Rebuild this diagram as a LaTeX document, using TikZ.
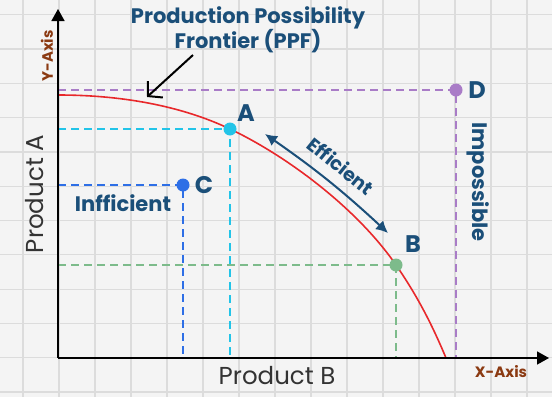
\documentclass[tikz,border=0pt]{standalone}
\usepackage{fontspec}
\setmainfont{Poppins}
\usetikzlibrary{arrows.meta}
\definecolor{bgc}{HTML}{F4F4F4}
\definecolor{gridc}{HTML}{DCDCDC}
\definecolor{titleblue}{HTML}{1B4F79}
\definecolor{ppfred}{HTML}{E8282B}
\definecolor{purplec}{HTML}{A97CC7}
\definecolor{cyanc}{HTML}{22C4E8}
\definecolor{bluec}{HTML}{2E6FE6}
\definecolor{greenc}{HTML}{7DBB8B}
\definecolor{brownc}{HTML}{8B3A12}
\definecolor{textgray}{HTML}{333333}
\tikzset{
  axisline/.style={line width=1.6pt, black, -{Triangle[length=12pt,width=13pt]}},
  dashline/.style={line width=2pt, dash pattern=on 8pt off 5pt},
  dot/.style={circle, inner sep=0pt, minimum size=13pt},
  ptlabel/.style={text=titleblue, font=\fontsize{24}{28}\selectfont\bfseries},
  bluetext/.style={text=titleblue, font=\fontsize{21}{24}\selectfont\bfseries},
  axislabel/.style={text=textgray, font=\fontsize{24.5}{28}\selectfont},
  axisname/.style={text=brownc, font=\fontsize{15}{18}\selectfont\bfseries},
}
\begin{document}
\begin{tikzpicture}[x=1pt,y=-1pt]
\useasboundingbox (0,0) rectangle (552,397);
\fill[bgc] (0,0) rectangle (552,397);
\foreach \i in {0,...,15} \draw[gridc, line width=1.2pt] ({23+36*\i},0) -- ({23+36*\i},397);
\foreach \j in {0,...,11} \draw[gridc, line width=1.2pt] (0,{392-34.3*\j}) -- (552,{392-34.3*\j});

% coordinates
\coordinate (O) at (58,358);
\coordinate (Ytip) at (58,9);
\coordinate (Xtip) at (549,358);
\coordinate (pA) at (230,129);
\coordinate (pB) at (396,265);
\coordinate (pC) at (183,185);
\coordinate (pD) at (456,90);
\coordinate (ppfTop) at (58,95);
\coordinate (ppfEnd) at (446,358);

% dashed guides
\draw[dashline, purplec] (O|-pD) -- (pD) -- (pD|-O);
\draw[dashline, cyanc] (O|-pA) -- (pA) -- (pA|-O);
\draw[dashline, bluec] (O|-pC) -- (pC) -- (pC|-O);
\draw[dashline, greenc] (O|-pB) -- (pB) -- (pB|-O);

% PPF curve
\draw[ppfred, line width=1.6pt] (ppfTop) .. controls (128,95) and (186,108) .. (pA)
  .. controls (285,155) and (356,207) .. (pB)
  .. controls (416,294) and (431,322) .. (ppfEnd);

% axes
\draw[axisline] (O) -- (Ytip);
\draw[axisline] (O) -- (Xtip);

% points
\node[dot, fill=cyanc] (A) at (pA) {};
\node[dot, fill=greenc] (B) at (pB) {};
\node[dot, fill=bluec] (C) at (pC) {};
\node[dot, fill=purplec] (D) at (pD) {};

% labels of points
\node[ptlabel] (lA) at (246,113) {A};
\node[ptlabel] (lB) at (413,244) {B};
\node[ptlabel] (lC) at (204,185) {C};
\node[ptlabel] (lD) at (477,90) {D};

% title and arrow
\node[text=titleblue, font=\fontsize{21}{25}\selectfont\bfseries, align=center] (title) at (248,30) {Production Possibility\\Frontier (PPF)};
\coordinate (ta1) at (193,55);
\coordinate (ta2) at (147,97);
\draw[line width=2pt, black, -{Straight Barb[length=10pt,width=22pt]}] (ta1) -- (ta2);

% efficient arrow
\coordinate (e1) at (265,134);
\coordinate (e2) at (388,233);
\draw[titleblue, line width=2pt, {Latex[length=12pt,width=12pt]}-{Latex[length=12pt,width=12pt]}] (e1) to[bend left=4] (e2);
\node[bluetext, font=\fontsize{19}{22}\selectfont\bfseries, rotate=-39] (eff) at (341,166) {Efficient};

\node[bluetext] (ineff) at (123,203) {Infficient};
\node[bluetext, rotate=-90] (imp) at (478,182) {Impossible};

% axis labels
\node[axislabel, rotate=90] (pa) at (35,194) {Product A};
\node[axislabel] (pb) at (277,376) {Product B};
\node[axisname, rotate=90] (ya) at (47,56) {Y-Axis};
\node[axisname] (xa) at (501,372) {X-Axis};
\end{tikzpicture}
\end{document}
